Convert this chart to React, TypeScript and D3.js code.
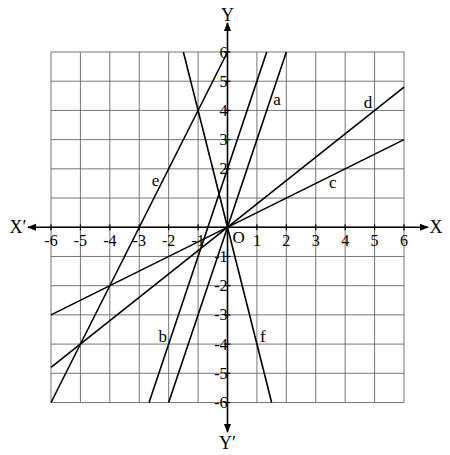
import * as d3 from "d3";

// grid range
const TICKS = [-6, -5, -4, -3, -2, -1, 0, 1, 2, 3, 4, 5, 6];
const X_TICK_LABELS = [-6, -5, -4, -3, -2, -1, 1, 2, 3, 4, 5, 6];
const Y_TICK_LABELS = [-6, -5, -4, -3, -2, -1, 2, 3, 4, 5, 6];

// straight lines, endpoints
const LINES: { name: string; pts: [number, number][] }[] = [
  { name: "a", pts: [[-2, -6], [2, 6]] },
  { name: "b", pts: [[-8 / 3, -6], [4 / 3, 6]] },
  { name: "c", pts: [[-6, -3], [6, 3]] },
  { name: "d", pts: [[-6, -4.8], [6, 4.8]] },
  { name: "e", pts: [[-6, -6], [0, 6]] },
  { name: "f", pts: [[-1.5, 6], [1.5, -6]] },
];

const LABELS: { name: string; x: number; y: number }[] = [
  { name: "a", x: 1.68, y: 4.35 },
  { name: "b", x: -2.2, y: -3.75 },
  { name: "c", x: 3.58, y: 1.5 },
  { name: "d", x: 4.78, y: 4.25 },
  { name: "e", x: -2.45, y: 1.6 },
  { name: "f", x: 1.2, y: -3.75 },
];

const W = 450;
const H = 455;
const FONT = "'Liberation Serif', 'Times New Roman', serif";

export default function App() {
  const x = d3.scaleLinear().domain([-6, 6]).range([51, 404]);
  const y = d3.scaleLinear().domain([-6, 6]).range([402.5, 52]);
  const line = d3
    .line<[number, number]>()
    .x((d) => x(d[0]))
    .y((d) => y(d[1]));

  const x0 = x(0);
  const y0 = y(0);

  return (
    <svg
      width={W}
      height={H}
      style={{ position: "absolute", left: 0, top: 0, background: "#fff" }}
      fontFamily={FONT}
    >
      <defs>
        <marker id="arr" viewBox="0 0 10 10" refX="9" refY="5" markerWidth="9" markerHeight="9" orient="auto-start-reverse" markerUnits="userSpaceOnUse">
          <path d="M0,1 L10,5 L0,9 Z" fill="#000" />
        </marker>
      </defs>

      {/* grid */}
      <g stroke="#666" strokeWidth={0.9}>
        {TICKS.map((t) => (
          <line key={"v" + t} x1={x(t)} x2={x(t)} y1={y(-6)} y2={y(6)} />
        ))}
        {TICKS.map((t) => (
          <line key={"h" + t} x1={x(-6)} x2={x(6)} y1={y(t)} y2={y(t)} />
        ))}
      </g>

      {/* axes */}
      <line x1={28} x2={428} y1={y0} y2={y0} stroke="#000" strokeWidth={1.6} markerStart="url(#arr)" markerEnd="url(#arr)" />
      <line x1={x0} x2={x0} y1={23} y2={432} stroke="#000" strokeWidth={1.6} markerStart="url(#arr)" markerEnd="url(#arr)" />

      {/* tick marks */}
      <g stroke="#000" strokeWidth={1.2}>
        {X_TICK_LABELS.map((t) => (
          <line key={"tx" + t} x1={x(t)} x2={x(t)} y1={y0 - 3} y2={y0 + 3} />
        ))}
        {Y_TICK_LABELS.map((t) => (
          <line key={"ty" + t} x1={x0 - 3} x2={x0 + 3} y1={y(t)} y2={y(t)} />
        ))}
      </g>

      {/* lines */}
      <g stroke="#000" strokeWidth={1.6} fill="none">
        {LINES.map((l) => (
          <path key={l.name} d={line(l.pts) ?? ""} />
        ))}
      </g>

      {/* tick labels */}
      <g fontSize={16} fill="#000">
        {X_TICK_LABELS.map((t) => (
          <text key={"lx" + t} x={x(t)} y={y0 + 19} textAnchor="middle">
            {t}
          </text>
        ))}
        {Y_TICK_LABELS.map((t) => (
          <text key={"ly" + t} x={x0} y={y(t) + 5.5} textAnchor="end">
            {t}
          </text>
        ))}
        <text x={x0 + 5} y={y0 + 16} fontSize={17}>O</text>
      </g>

      {/* line labels */}
      <g fontSize={17} fill="#000" textAnchor="middle">
        {LABELS.map((l) => (
          <text key={"n" + l.name} x={x(l.x)} y={y(l.y) + 5}>
            {l.name}
          </text>
        ))}
      </g>

      {/* axis names */}
      <g fontSize={18} fill="#000" textAnchor="middle">
        <text x={x0} y={21}>Y</text>
        <text x={x0} y={449}>Y′</text>
        <text x={436} y={y0 + 6}>X</text>
        <text x={18} y={y0 + 6}>X′</text>
      </g>
    </svg>
  );
}
